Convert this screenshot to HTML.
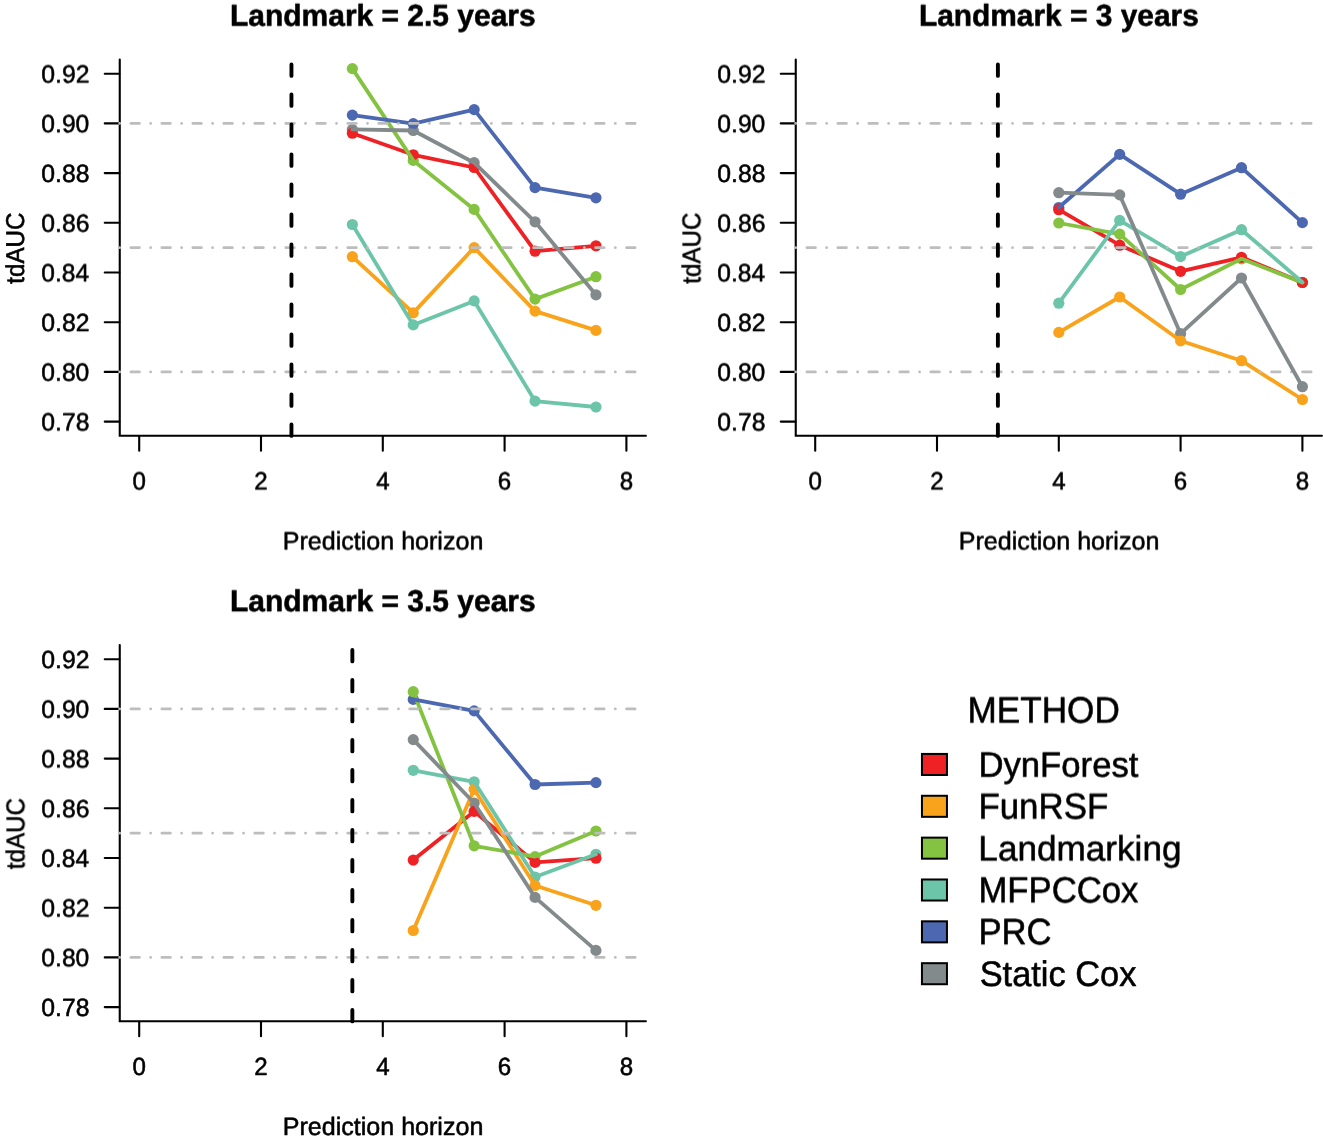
<!DOCTYPE html>
<html lang="en"><head><meta charset="utf-8"><title>tdAUC by landmark time</title>
<style>html,body{margin:0;padding:0;background:#fff}svg{display:block}text{font-family:"Liberation Sans", sans-serif;fill:#000}</style></head><body>
<svg width="1323" height="1141" viewBox="0 0 1323 1141">
<rect width="1323" height="1141" fill="#fff"/>
<g>
<g fill="#838a8c"><circle cx="352.35" cy="129.4" r="5.6"/><circle cx="413.25" cy="130.5" r="5.6"/><circle cx="474.15" cy="162.7" r="5.6"/><circle cx="535.05" cy="221.8" r="5.6"/><circle cx="595.95" cy="294.8" r="5.6"/></g>
<g fill="#4c68b1"><circle cx="352.35" cy="115.1" r="5.6"/><circle cx="413.25" cy="123.7" r="5.6"/><circle cx="474.15" cy="109.6" r="5.6"/><circle cx="535.05" cy="187.6" r="5.6"/><circle cx="595.95" cy="197.8" r="5.6"/></g>
<g fill="#6cc5a9"><circle cx="352.35" cy="224.5" r="5.6"/><circle cx="413.25" cy="324.9" r="5.6"/><circle cx="474.15" cy="300.9" r="5.6"/><circle cx="535.05" cy="401.1" r="5.6"/><circle cx="595.95" cy="407" r="5.6"/></g>
<g fill="#84c341"><circle cx="352.35" cy="68.6" r="5.6"/><circle cx="413.25" cy="160.4" r="5.6"/><circle cx="474.15" cy="209.4" r="5.6"/><circle cx="535.05" cy="299.1" r="5.6"/><circle cx="595.95" cy="276.7" r="5.6"/></g>
<g fill="#f9a21b"><circle cx="352.35" cy="256.7" r="5.6"/><circle cx="413.25" cy="312.9" r="5.6"/><circle cx="474.15" cy="247.6" r="5.6"/><circle cx="535.05" cy="311.1" r="5.6"/><circle cx="595.95" cy="330.4" r="5.6"/></g>
<g fill="#ee2125"><circle cx="352.35" cy="133.2" r="5.6"/><circle cx="413.25" cy="154.8" r="5.6"/><circle cx="474.15" cy="167.5" r="5.6"/><circle cx="535.05" cy="251.2" r="5.6"/><circle cx="595.95" cy="245.8" r="5.6"/></g>
<g stroke="#000" stroke-width="2.1" stroke-linecap="round" stroke-linejoin="miter" fill="none">
<polyline points="119.75,59.6 119.75,435.8 645.9,435.8"/>
<line x1="104.75" y1="73.7" x2="119.35" y2="73.7"/>
<line x1="104.75" y1="123.4" x2="119.35" y2="123.4"/>
<line x1="104.75" y1="173.1" x2="119.35" y2="173.1"/>
<line x1="104.75" y1="222.8" x2="119.35" y2="222.8"/>
<line x1="104.75" y1="272.5" x2="119.35" y2="272.5"/>
<line x1="104.75" y1="322.2" x2="119.35" y2="322.2"/>
<line x1="104.75" y1="371.9" x2="119.35" y2="371.9"/>
<line x1="104.75" y1="421.6" x2="119.35" y2="421.6"/>
<line x1="139.2" y1="436.2" x2="139.2" y2="450.75"/>
<line x1="261" y1="436.2" x2="261" y2="450.75"/>
<line x1="382.8" y1="436.2" x2="382.8" y2="450.75"/>
<line x1="504.6" y1="436.2" x2="504.6" y2="450.75"/>
<line x1="626.4" y1="436.2" x2="626.4" y2="450.75"/>
</g>
<polyline points="352.35,133.2 413.25,154.8 474.15,167.5 535.05,251.2 595.95,245.8" fill="none" stroke="#ee2125" stroke-width="3.8" stroke-linecap="round" stroke-linejoin="round"/>
<polyline points="352.35,256.7 413.25,312.9 474.15,247.6 535.05,311.1 595.95,330.4" fill="none" stroke="#f9a21b" stroke-width="3.8" stroke-linecap="round" stroke-linejoin="round"/>
<polyline points="352.35,68.6 413.25,160.4 474.15,209.4 535.05,299.1 595.95,276.7" fill="none" stroke="#84c341" stroke-width="3.8" stroke-linecap="round" stroke-linejoin="round"/>
<polyline points="352.35,224.5 413.25,324.9 474.15,300.9 535.05,401.1 595.95,407" fill="none" stroke="#6cc5a9" stroke-width="3.8" stroke-linecap="round" stroke-linejoin="round"/>
<polyline points="352.35,115.1 413.25,123.7 474.15,109.6 535.05,187.6 595.95,197.8" fill="none" stroke="#4c68b1" stroke-width="3.8" stroke-linecap="round" stroke-linejoin="round"/>
<line x1="119.65" y1="123.4" x2="641" y2="123.4" stroke="#bdbdbd" stroke-width="2.8" stroke-linecap="round" stroke-dasharray="0.01 11.25 8.5 11.22"/>
<line x1="119.65" y1="247.65" x2="641" y2="247.65" stroke="#bdbdbd" stroke-width="2.8" stroke-linecap="round" stroke-dasharray="0.01 11.25 8.5 11.22"/>
<line x1="119.65" y1="371.9" x2="641" y2="371.9" stroke="#bdbdbd" stroke-width="2.8" stroke-linecap="round" stroke-dasharray="0.01 11.25 8.5 11.22"/>
<line x1="291.45" y1="435.9" x2="291.45" y2="63" stroke="#000" stroke-width="3.9" stroke-linecap="round" stroke-dasharray="11.4 18.6"/>
<polyline points="352.35,129.4 413.25,130.5 474.15,162.7 535.05,221.8 595.95,294.8" fill="none" stroke="#838a8c" stroke-width="3.8" stroke-linecap="round" stroke-linejoin="round"/>
</g>
<g>
<g fill="#838a8c"><circle cx="1058.8" cy="192.7" r="5.6"/><circle cx="1119.7" cy="194.9" r="5.6"/><circle cx="1180.6" cy="333.7" r="5.6"/><circle cx="1241.5" cy="278" r="5.6"/><circle cx="1302.4" cy="386.7" r="5.6"/></g>
<g fill="#4c68b1"><circle cx="1058.8" cy="207.5" r="5.6"/><circle cx="1119.7" cy="154.4" r="5.6"/><circle cx="1180.6" cy="194.2" r="5.6"/><circle cx="1241.5" cy="167.7" r="5.6"/><circle cx="1302.4" cy="222.6" r="5.6"/></g>
<g fill="#6cc5a9"><circle cx="1058.8" cy="303.2" r="5.6"/><circle cx="1119.7" cy="220.4" r="5.6"/><circle cx="1180.6" cy="256.6" r="5.6"/><circle cx="1241.5" cy="229.7" r="5.6"/><circle cx="1302.4" cy="282.3" r="5.6"/></g>
<g fill="#84c341"><circle cx="1058.8" cy="223" r="5.6"/><circle cx="1119.7" cy="234.1" r="5.6"/><circle cx="1180.6" cy="289.5" r="5.6"/><circle cx="1241.5" cy="258.8" r="5.6"/><circle cx="1302.4" cy="282.5" r="5.6"/></g>
<g fill="#f9a21b"><circle cx="1058.8" cy="332.4" r="5.6"/><circle cx="1119.7" cy="297" r="5.6"/><circle cx="1180.6" cy="340.8" r="5.6"/><circle cx="1241.5" cy="360.7" r="5.6"/><circle cx="1302.4" cy="399.5" r="5.6"/></g>
<g fill="#ee2125"><circle cx="1058.8" cy="209.7" r="5.6"/><circle cx="1119.7" cy="245.2" r="5.6"/><circle cx="1180.6" cy="271.3" r="5.6"/><circle cx="1241.5" cy="257.3" r="5.6"/><circle cx="1302.4" cy="282.5" r="5.6"/></g>
<g stroke="#000" stroke-width="2.1" stroke-linecap="round" stroke-linejoin="miter" fill="none">
<polyline points="795.75,59.6 795.75,435.8 1321.9,435.8"/>
<line x1="780.75" y1="73.7" x2="795.35" y2="73.7"/>
<line x1="780.75" y1="123.4" x2="795.35" y2="123.4"/>
<line x1="780.75" y1="173.1" x2="795.35" y2="173.1"/>
<line x1="780.75" y1="222.8" x2="795.35" y2="222.8"/>
<line x1="780.75" y1="272.5" x2="795.35" y2="272.5"/>
<line x1="780.75" y1="322.2" x2="795.35" y2="322.2"/>
<line x1="780.75" y1="371.9" x2="795.35" y2="371.9"/>
<line x1="780.75" y1="421.6" x2="795.35" y2="421.6"/>
<line x1="815.2" y1="436.2" x2="815.2" y2="450.75"/>
<line x1="937" y1="436.2" x2="937" y2="450.75"/>
<line x1="1058.8" y1="436.2" x2="1058.8" y2="450.75"/>
<line x1="1180.6" y1="436.2" x2="1180.6" y2="450.75"/>
<line x1="1302.4" y1="436.2" x2="1302.4" y2="450.75"/>
</g>
<polyline points="1058.8,209.7 1119.7,245.2 1180.6,271.3 1241.5,257.3 1302.4,282.5" fill="none" stroke="#ee2125" stroke-width="3.8" stroke-linecap="round" stroke-linejoin="round"/>
<polyline points="1058.8,332.4 1119.7,297 1180.6,340.8 1241.5,360.7 1302.4,399.5" fill="none" stroke="#f9a21b" stroke-width="3.8" stroke-linecap="round" stroke-linejoin="round"/>
<polyline points="1058.8,223 1119.7,234.1 1180.6,289.5 1241.5,258.8 1302.4,282.5" fill="none" stroke="#84c341" stroke-width="3.8" stroke-linecap="round" stroke-linejoin="round"/>
<polyline points="1058.8,303.2 1119.7,220.4 1180.6,256.6 1241.5,229.7 1302.4,282.3" fill="none" stroke="#6cc5a9" stroke-width="3.8" stroke-linecap="round" stroke-linejoin="round"/>
<polyline points="1058.8,207.5 1119.7,154.4 1180.6,194.2 1241.5,167.7 1302.4,222.6" fill="none" stroke="#4c68b1" stroke-width="3.8" stroke-linecap="round" stroke-linejoin="round"/>
<line x1="795.65" y1="123.4" x2="1317" y2="123.4" stroke="#bdbdbd" stroke-width="2.8" stroke-linecap="round" stroke-dasharray="0.01 11.25 8.5 11.22"/>
<line x1="795.65" y1="247.65" x2="1317" y2="247.65" stroke="#bdbdbd" stroke-width="2.8" stroke-linecap="round" stroke-dasharray="0.01 11.25 8.5 11.22"/>
<line x1="795.65" y1="371.9" x2="1317" y2="371.9" stroke="#bdbdbd" stroke-width="2.8" stroke-linecap="round" stroke-dasharray="0.01 11.25 8.5 11.22"/>
<line x1="997.9" y1="435.9" x2="997.9" y2="63" stroke="#000" stroke-width="3.9" stroke-linecap="round" stroke-dasharray="11.4 18.6"/>
<polyline points="1058.8,192.7 1119.7,194.9 1180.6,333.7 1241.5,278 1302.4,386.7" fill="none" stroke="#838a8c" stroke-width="3.8" stroke-linecap="round" stroke-linejoin="round"/>
</g>
<g>
<g fill="#838a8c"><circle cx="413.25" cy="739.6" r="5.6"/><circle cx="474.15" cy="803" r="5.6"/><circle cx="535.05" cy="897.4" r="5.6"/><circle cx="595.95" cy="950.4" r="5.6"/></g>
<g fill="#4c68b1"><circle cx="413.25" cy="699.4" r="5.6"/><circle cx="474.15" cy="710.9" r="5.6"/><circle cx="535.05" cy="784.5" r="5.6"/><circle cx="595.95" cy="782.6" r="5.6"/></g>
<g fill="#6cc5a9"><circle cx="413.25" cy="770.3" r="5.6"/><circle cx="474.15" cy="781.8" r="5.6"/><circle cx="535.05" cy="877" r="5.6"/><circle cx="595.95" cy="854.3" r="5.6"/></g>
<g fill="#84c341"><circle cx="413.25" cy="691.7" r="5.6"/><circle cx="474.15" cy="845.8" r="5.6"/><circle cx="535.05" cy="856.6" r="5.6"/><circle cx="595.95" cy="831" r="5.6"/></g>
<g fill="#f9a21b"><circle cx="413.25" cy="930.5" r="5.6"/><circle cx="474.15" cy="789.3" r="5.6"/><circle cx="535.05" cy="885.5" r="5.6"/><circle cx="595.95" cy="905.3" r="5.6"/></g>
<g fill="#ee2125"><circle cx="413.25" cy="860.1" r="5.6"/><circle cx="474.15" cy="811.4" r="5.6"/><circle cx="535.05" cy="862.4" r="5.6"/><circle cx="595.95" cy="858.2" r="5.6"/></g>
<g stroke="#000" stroke-width="2.1" stroke-linecap="round" stroke-linejoin="miter" fill="none">
<polyline points="119.75,645.1 119.75,1021.3 645.9,1021.3"/>
<line x1="104.75" y1="659.2" x2="119.35" y2="659.2"/>
<line x1="104.75" y1="708.9" x2="119.35" y2="708.9"/>
<line x1="104.75" y1="758.6" x2="119.35" y2="758.6"/>
<line x1="104.75" y1="808.3" x2="119.35" y2="808.3"/>
<line x1="104.75" y1="858" x2="119.35" y2="858"/>
<line x1="104.75" y1="907.7" x2="119.35" y2="907.7"/>
<line x1="104.75" y1="957.4" x2="119.35" y2="957.4"/>
<line x1="104.75" y1="1007.1" x2="119.35" y2="1007.1"/>
<line x1="139.2" y1="1021.7" x2="139.2" y2="1036.25"/>
<line x1="261" y1="1021.7" x2="261" y2="1036.25"/>
<line x1="382.8" y1="1021.7" x2="382.8" y2="1036.25"/>
<line x1="504.6" y1="1021.7" x2="504.6" y2="1036.25"/>
<line x1="626.4" y1="1021.7" x2="626.4" y2="1036.25"/>
</g>
<polyline points="413.25,860.1 474.15,811.4 535.05,862.4 595.95,858.2" fill="none" stroke="#ee2125" stroke-width="3.8" stroke-linecap="round" stroke-linejoin="round"/>
<polyline points="413.25,930.5 474.15,789.3 535.05,885.5 595.95,905.3" fill="none" stroke="#f9a21b" stroke-width="3.8" stroke-linecap="round" stroke-linejoin="round"/>
<polyline points="413.25,691.7 474.15,845.8 535.05,856.6 595.95,831" fill="none" stroke="#84c341" stroke-width="3.8" stroke-linecap="round" stroke-linejoin="round"/>
<polyline points="413.25,770.3 474.15,781.8 535.05,877 595.95,854.3" fill="none" stroke="#6cc5a9" stroke-width="3.8" stroke-linecap="round" stroke-linejoin="round"/>
<polyline points="413.25,699.4 474.15,710.9 535.05,784.5 595.95,782.6" fill="none" stroke="#4c68b1" stroke-width="3.8" stroke-linecap="round" stroke-linejoin="round"/>
<line x1="119.65" y1="708.9" x2="641" y2="708.9" stroke="#bdbdbd" stroke-width="2.8" stroke-linecap="round" stroke-dasharray="0.01 11.25 8.5 11.22"/>
<line x1="119.65" y1="833.15" x2="641" y2="833.15" stroke="#bdbdbd" stroke-width="2.8" stroke-linecap="round" stroke-dasharray="0.01 11.25 8.5 11.22"/>
<line x1="119.65" y1="957.4" x2="641" y2="957.4" stroke="#bdbdbd" stroke-width="2.8" stroke-linecap="round" stroke-dasharray="0.01 11.25 8.5 11.22"/>
<line x1="352.35" y1="1021.4" x2="352.35" y2="648.5" stroke="#000" stroke-width="3.9" stroke-linecap="round" stroke-dasharray="11.4 18.6"/>
<polyline points="413.25,739.6 474.15,803 535.05,897.4 595.95,950.4" fill="none" stroke="#838a8c" stroke-width="3.8" stroke-linecap="round" stroke-linejoin="round"/>
</g>
<rect x="921.95" y="753.93" width="25" height="21.05" fill="#ee2125" stroke="#000" stroke-width="2"/>
<rect x="921.95" y="795.78" width="25" height="21.05" fill="#f9a21b" stroke="#000" stroke-width="2"/>
<rect x="921.95" y="837.63" width="25" height="21.05" fill="#84c341" stroke="#000" stroke-width="2"/>
<rect x="921.95" y="879.48" width="25" height="21.05" fill="#6cc5a9" stroke="#000" stroke-width="2"/>
<rect x="921.95" y="921.33" width="25" height="21.05" fill="#4c68b1" stroke="#000" stroke-width="2"/>
<rect x="921.95" y="963.18" width="25" height="21.05" fill="#838a8c" stroke="#000" stroke-width="2"/>
<defs>
<filter id="h4" filterUnits="userSpaceOnUse" x="0" y="0" width="1323" height="1141" color-interpolation-filters="sRGB"><feConvolveMatrix order="3 1" kernelMatrix="0 1 0" divisor="1" edgeMode="none" preserveAlpha="false"/></filter>
<filter id="v0" filterUnits="userSpaceOnUse" x="0" y="0" width="1323" height="1141" color-interpolation-filters="sRGB"><feConvolveMatrix order="1 3" kernelMatrix="0.5 0.5 0" divisor="1" edgeMode="none" preserveAlpha="false"/></filter>
<filter id="v1" filterUnits="userSpaceOnUse" x="0" y="0" width="1323" height="1141" color-interpolation-filters="sRGB"><feConvolveMatrix order="1 3" kernelMatrix="0.38 0.62 0" divisor="1" edgeMode="none" preserveAlpha="false"/></filter>
<filter id="v2" filterUnits="userSpaceOnUse" x="0" y="0" width="1323" height="1141" color-interpolation-filters="sRGB"><feConvolveMatrix order="1 3" kernelMatrix="0.25 0.75 0" divisor="1" edgeMode="none" preserveAlpha="false"/></filter>
<filter id="v3" filterUnits="userSpaceOnUse" x="0" y="0" width="1323" height="1141" color-interpolation-filters="sRGB"><feConvolveMatrix order="1 3" kernelMatrix="0.12 0.88 0" divisor="1" edgeMode="none" preserveAlpha="false"/></filter>
<filter id="v4" filterUnits="userSpaceOnUse" x="0" y="0" width="1323" height="1141" color-interpolation-filters="sRGB"><feConvolveMatrix order="1 3" kernelMatrix="0 1 0" divisor="1" edgeMode="none" preserveAlpha="false"/></filter>
<filter id="v5" filterUnits="userSpaceOnUse" x="0" y="0" width="1323" height="1141" color-interpolation-filters="sRGB"><feConvolveMatrix order="1 3" kernelMatrix="0 0.88 0.12" divisor="1" edgeMode="none" preserveAlpha="false"/></filter>
<filter id="v6" filterUnits="userSpaceOnUse" x="0" y="0" width="1323" height="1141" color-interpolation-filters="sRGB"><feConvolveMatrix order="1 3" kernelMatrix="0 0.75 0.25" divisor="1" edgeMode="none" preserveAlpha="false"/></filter>
<filter id="v7" filterUnits="userSpaceOnUse" x="0" y="0" width="1323" height="1141" color-interpolation-filters="sRGB"><feConvolveMatrix order="1 3" kernelMatrix="0 0.62 0.38" divisor="1" edgeMode="none" preserveAlpha="false"/></filter>
<filter id="v8" filterUnits="userSpaceOnUse" x="0" y="0" width="1323" height="1141" color-interpolation-filters="sRGB"><feConvolveMatrix order="1 3" kernelMatrix="0 0.5 0.5" divisor="1" edgeMode="none" preserveAlpha="false"/></filter>
</defs>
<g text-rendering="geometricPrecision" stroke="#000" stroke-width="0.55" stroke-linejoin="round">
<g filter="url(#h4)">
<text transform="translate(24 283.79) rotate(-90) scale(0.9685 1.0300)" font-size="25">tdAUC</text>
<text transform="translate(700 283.79) rotate(-90) scale(0.9685 1.0300)" font-size="25">tdAUC</text>
<text transform="translate(24 869.29) rotate(-90) scale(0.9685 1.0300)" font-size="25">tdAUC</text>
</g>
<g filter="url(#v0)">
<text transform="translate(282.67 550) scale(1.0029 1.0029)" font-size="25">Prediction horizon</text>
<text transform="translate(132.51 490) scale(0.9650 0.9950)" font-size="25">0</text>
<text transform="translate(254.25 490) scale(0.9650 0.9950)" font-size="25">2</text>
<text transform="translate(376.17 490) scale(0.9650 0.9950)" font-size="25">4</text>
<text transform="translate(497.78 490) scale(0.9650 0.9950)" font-size="25">6</text>
<text transform="translate(619.71 490) scale(0.9650 0.9950)" font-size="25">8</text>
<text transform="translate(958.67 550) scale(1.0029 1.0029)" font-size="25">Prediction horizon</text>
<text transform="translate(808.51 490) scale(0.9650 0.9950)" font-size="25">0</text>
<text transform="translate(930.25 490) scale(0.9650 0.9950)" font-size="25">2</text>
<text transform="translate(1052.17 490) scale(0.9650 0.9950)" font-size="25">4</text>
<text transform="translate(1173.78 490) scale(0.9650 0.9950)" font-size="25">6</text>
<text transform="translate(1295.71 490) scale(0.9650 0.9950)" font-size="25">8</text>
<text transform="translate(41.31 768) scale(0.9892 0.9950)" font-size="25">0.88</text>
</g>
<g filter="url(#v1)">
<text transform="translate(41.31 83) scale(0.9919 0.9950)" font-size="25">0.92</text>
<text transform="translate(717.31 83) scale(0.9919 0.9950)" font-size="25">0.92</text>
<text transform="translate(41.31 917) scale(0.9919 0.9950)" font-size="25">0.82</text>
<text transform="translate(967.56 723) scale(1.0037 1.0500)" font-size="35">METHOD</text>
<text transform="translate(978.39 819) scale(0.9960 1.0333)" font-size="35">FunRSF</text>
</g>
<g filter="url(#v2)">
<text transform="translate(230.03 26) scale(0.9986 1.0120)" font-size="30" font-weight="bold">Landmark = 2.5 years</text>
<text transform="translate(41.31 232) scale(0.9892 0.9950)" font-size="25">0.86</text>
<text transform="translate(41.31 381) scale(0.9866 0.9950)" font-size="25">0.80</text>
<text transform="translate(918.93 26) scale(0.9960 1.0120)" font-size="30" font-weight="bold">Landmark = 3 years</text>
<text transform="translate(717.31 232) scale(0.9892 0.9950)" font-size="25">0.86</text>
<text transform="translate(717.31 381) scale(0.9866 0.9950)" font-size="25">0.80</text>
<text transform="translate(41.31 718) scale(0.9866 0.9950)" font-size="25">0.90</text>
<text transform="translate(978.4 777) scale(0.9913 1.0111)" font-size="35">DynForest</text>
</g>
<g filter="url(#v3)">
<text transform="translate(41.32 867) scale(0.9814 0.9950)" font-size="25">0.84</text>
</g>
<g filter="url(#v4)">
<text transform="translate(41.31 182) scale(0.9892 0.9950)" font-size="25">0.88</text>
<text transform="translate(717.31 182) scale(0.9892 0.9950)" font-size="25">0.88</text>
<text transform="translate(282.67 1135) scale(1.0029 1.0029)" font-size="25">Prediction horizon</text>
<text transform="translate(41.31 1016) scale(0.9892 0.9950)" font-size="25">0.78</text>
<text transform="translate(132.51 1075) scale(0.9650 0.9950)" font-size="25">0</text>
<text transform="translate(254.25 1075) scale(0.9650 0.9950)" font-size="25">2</text>
<text transform="translate(376.17 1075) scale(0.9650 0.9950)" font-size="25">4</text>
<text transform="translate(497.78 1075) scale(0.9650 0.9950)" font-size="25">6</text>
<text transform="translate(619.71 1075) scale(0.9650 0.9950)" font-size="25">8</text>
<text transform="translate(979.63 986) scale(0.9833 1.0111)" font-size="35">Static Cox</text>
</g>
<g filter="url(#v5)">
<text transform="translate(41.31 331) scale(0.9919 0.9950)" font-size="25">0.82</text>
<text transform="translate(717.31 331) scale(0.9919 0.9950)" font-size="25">0.82</text>
<text transform="translate(41.31 668) scale(0.9919 0.9950)" font-size="25">0.92</text>
</g>
<g filter="url(#v6)">
<text transform="translate(41.31 132) scale(0.9866 0.9950)" font-size="25">0.90</text>
<text transform="translate(717.31 132) scale(0.9866 0.9950)" font-size="25">0.90</text>
<text transform="translate(230.03 611) scale(0.9986 1.0120)" font-size="30" font-weight="bold">Landmark = 3.5 years</text>
<text transform="translate(41.31 817) scale(0.9892 0.9950)" font-size="25">0.86</text>
<text transform="translate(41.31 966) scale(0.9866 0.9950)" font-size="25">0.80</text>
<text transform="translate(978.4 944) scale(0.9908 1.0500)" font-size="35">PRC</text>
</g>
<g filter="url(#v7)">
<text transform="translate(41.32 281) scale(0.9814 0.9950)" font-size="25">0.84</text>
<text transform="translate(717.32 281) scale(0.9814 0.9950)" font-size="25">0.84</text>
<text transform="translate(978.4 902) scale(0.9918 1.0357)" font-size="35">MFPCCox</text>
</g>
<g filter="url(#v8)">
<text transform="translate(41.31 430) scale(0.9892 0.9950)" font-size="25">0.78</text>
<text transform="translate(717.31 430) scale(0.9892 0.9950)" font-size="25">0.78</text>
<text transform="translate(978.36 860) scale(1.0038 1.0045)" font-size="35">Landmarking</text>
</g>
</g>
</svg></body></html>
